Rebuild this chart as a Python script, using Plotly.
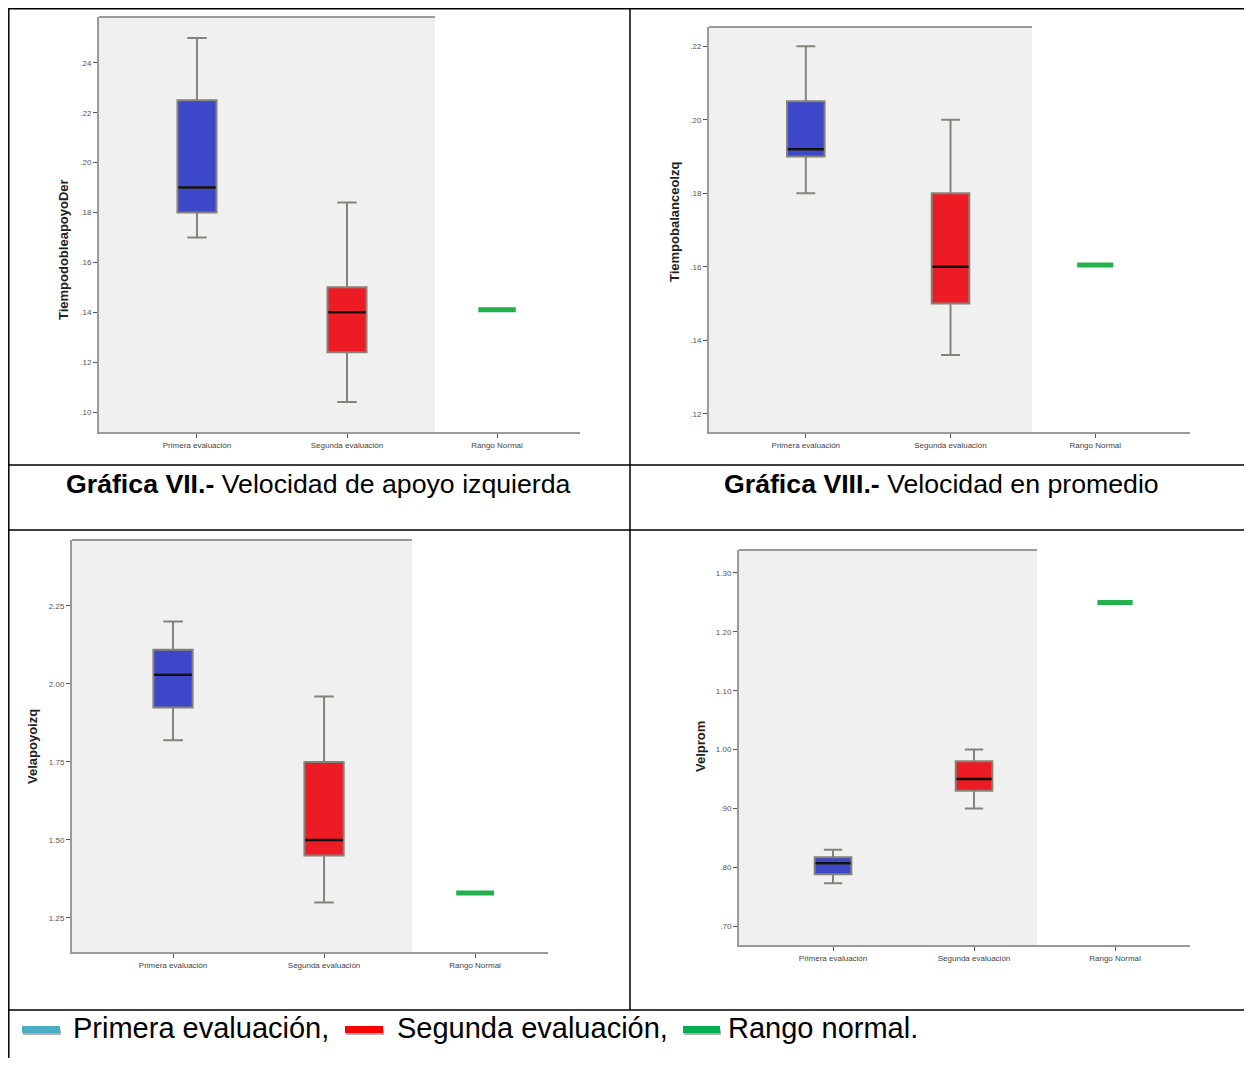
import plotly.graph_objects as go

OFF = 8  # page body margin in the browser
W, H = 1252 - OFF, 1074 - 3 * OFF

categories = ["Primera evaluación", "Segunda evaluación", "Rango Normal"]

# ---- Gráfica VII (TiempodobleapoyoDer) ----
g1_title = "TiempodobleapoyoDer"
g1_lower = [0.170, 0.104]
g1_q1 = [0.180, 0.124]
g1_median = [0.190, 0.140]
g1_q3 = [0.225, 0.150]
g1_upper = [0.250, 0.184]
g1_normal = 0.141
g1_ticks = [0.10, 0.12, 0.14, 0.16, 0.18, 0.20, 0.22, 0.24]
g1_ticktext = [".10", ".12", ".14", ".16", ".18", ".20", ".22", ".24"]

# ---- Gráfica VIII (Tiempobalanceolzq) ----
g2_title = "Tiempobalanceolzq"
g2_lower = [0.180, 0.136]
g2_q1 = [0.190, 0.150]
g2_median = [0.192, 0.160]
g2_q3 = [0.205, 0.180]
g2_upper = [0.220, 0.200]
g2_normal = 0.1605
g2_ticks = [0.12, 0.14, 0.16, 0.18, 0.20, 0.22]
g2_ticktext = [".12", ".14", ".16", ".18", ".20", ".22"]

# ---- Velapoyoizq ----
g3_title = "Velapoyoizq"
g3_lower = [1.82, 1.30]
g3_q1 = [1.925, 1.45]
g3_median = [2.03, 1.50]
g3_q3 = [2.11, 1.75]
g3_upper = [2.20, 1.96]
g3_normal = 1.33
g3_ticks = [1.25, 1.50, 1.75, 2.00, 2.25]
g3_ticktext = ["1.25", "1.50", "1.75", "2.00", "2.25"]

# ---- Velprom ----
g4_title = "Velprom"
g4_lower = [0.773, 0.900]
g4_q1 = [0.788, 0.930]
g4_median = [0.807, 0.950]
g4_q3 = [0.817, 0.980]
g4_upper = [0.830, 1.000]
g4_normal = 1.25
g4_ticks = [0.70, 0.80, 0.90, 1.00, 1.10, 1.20, 1.30]
g4_ticktext = [".70", ".80", ".90", "1.00", "1.10", "1.20", "1.30"]

captions = ["<b>Gráfica VII.-</b> Velocidad de apoyo izquierda",
            "<b>Gráfica VIII.-</b> Velocidad en promedio"]
legend_labels = ["Primera evaluación,", "Segunda evaluación,", "Rango normal."]
legend_colors = ["#4bacc6", "#ff0000", "#00b050"]

BLUE = "#3d47c9"
RED = "#ed1c24"
GREEN = "#22b14c"
GRAY_BG = "#f0f0f0"
FONT = "Liberation Sans, Arial, sans-serif"


def px(x):
    return (x - OFF) / W


def py(y):
    return 1 - (y - OFF) / H


panels = [
    dict(data=(g1_lower, g1_q1, g1_median, g1_q3, g1_upper, g1_normal),
         ticks=(g1_ticks, g1_ticktext), title=g1_title,
         box=(99, 580, 17, 432), gray_end=435, xr=[-0.653, 2.553], yr=[0.092, 0.2584],
         tpos=(63, 250)),
    dict(data=(g2_lower, g2_q1, g2_median, g2_q3, g2_upper, g2_normal),
         ticks=(g2_ticks, g2_ticktext), title=g2_title,
         box=(709, 1190, 27, 432), gray_end=1032, xr=[-0.669, 2.655], yr=[0.1151, 0.2252],
         tpos=(675, 222)),
    dict(data=(g3_lower, g3_q1, g3_median, g3_q3, g3_upper, g3_normal),
         ticks=(g3_ticks, g3_ticktext), title=g3_title,
         box=(72, 548, 540, 952), gray_end=412, xr=[-0.669, 2.483], yr=[1.141, 2.4615],
         tpos=(32, 747)),
    dict(data=(g4_lower, g4_q1, g4_median, g4_q3, g4_upper, g4_normal),
         ticks=(g4_ticks, g4_ticktext), title=g4_title,
         box=(739, 1190, 550, 945), gray_end=1037, xr=[-0.667, 2.532], yr=[0.668, 1.339],
         tpos=(700, 747)),
]

fig = go.Figure()
shapes = []
annotations = []
layout_axes = {}

for i, p in enumerate(panels, start=1):
    xa = "x" if i == 1 else f"x{i}"
    ya = "y" if i == 1 else f"y{i}"
    lower, q1, med, q3, upper, normal = p["data"]
    fills = [BLUE, RED]
    for k in range(2):
        fig.add_trace(go.Box(
            x=[categories[k]], q1=[q1[k]], median=[med[k]], q3=[q3[k]],
            lowerfence=[lower[k]], upperfence=[upper[k]],
            width=0.26, whiskerwidth=0.5, fillcolor=fills[k],
            line=dict(color="#85827a", width=2),
            xaxis=xa, yaxis=ya, showlegend=False, hoverinfo="skip"))
        # median line drawn in black
        fig.add_trace(go.Box(
            x=[categories[k]], q1=[med[k]], median=[med[k]], q3=[med[k]],
            lowerfence=[med[k]], upperfence=[med[k]],
            width=0.25, whiskerwidth=0, fillcolor="rgba(0,0,0,0)",
            line=dict(color="#111111", width=2.5),
            xaxis=xa, yaxis=ya, showlegend=False, hoverinfo="skip"))
    fig.add_trace(go.Box(
        x=[categories[2]], q1=[normal], median=[normal], q3=[normal],
        lowerfence=[normal], upperfence=[normal],
        width=0.25, whiskerwidth=0, fillcolor=GREEN,
        line=dict(color=GREEN, width=5),
        xaxis=xa, yaxis=ya, showlegend=False, hoverinfo="skip"))

    x0, x1, y0, y1 = p["box"]
    xkey = "xaxis" if i == 1 else f"xaxis{i}"
    ykey = "yaxis" if i == 1 else f"yaxis{i}"
    layout_axes[xkey] = dict(
        domain=[px(x0), px(x1)], anchor=ya, type="category",
        categoryorder="array", categoryarray=categories,
        range=p["xr"], showgrid=False, zeroline=False,
        showline=True, linecolor="#9a9a9a", linewidth=2,
        ticks="outside", ticklen=4, tickcolor="#555", tickwidth=1,
        tickfont=dict(family=FONT, size=8, color="#444"), fixedrange=True)
    layout_axes[ykey] = dict(
        domain=[py(y1), py(y0)], anchor=xa, range=p["yr"],
        tickvals=p["ticks"][0], ticktext=p["ticks"][1],
        showgrid=False, zeroline=False,
        showline=True, linecolor="#9a9a9a", linewidth=2,
        ticks="outside", ticklen=4, tickcolor="#555", tickwidth=1,
        tickfont=dict(family=FONT, size=8, color="#555"), fixedrange=True)

    # gray data area and its top border
    shapes.append(dict(type="rect", xref="paper", yref="paper",
                       x0=px(x0), x1=px(p["gray_end"]), y0=py(y1), y1=py(y0),
                       fillcolor=GRAY_BG, line=dict(width=0), layer="below"))
    shapes.append(dict(type="line", xref="paper", yref="paper",
                       x0=px(x0), x1=px(p["gray_end"]), y0=py(y0), y1=py(y0),
                       line=dict(color="#9a9a9a", width=2), layer="below"))
    tx, ty = p["tpos"]
    annotations.append(dict(text=f"<b>{p['title']}</b>", x=px(tx), y=py(ty),
                            xref="paper", yref="paper", showarrow=False,
                            xanchor="center", yanchor="middle",
                            textangle=-90, font=dict(family=FONT, size=13, color="#222")))

# table grid
BL = dict(color="black", width=1.5)
for (xa0, ya0, xa1, ya1) in [
    (8, 8.8, 1249, 8.8),      # top
    (8.8, 8, 8.8, 1074),      # left
    (1249, 8, 1249, 1074),    # right
    (630, 8, 630, 1010),      # middle vertical
    (8, 465, 1249, 465),
    (8, 530, 1249, 530),
    (8, 1010, 1249, 1010),
]:
    shapes.append(dict(type="line", xref="paper", yref="paper",
                       x0=px(xa0), y0=py(ya0), x1=px(xa1), y1=py(ya1), line=BL))

# captions
for cap, cx in zip(captions, [318, 941]):
    annotations.append(dict(text=cap, x=px(cx), y=py(484), xref="paper", yref="paper",
                            xanchor="center", yanchor="middle", showarrow=False,
                            font=dict(family=FONT, size=26.7, color="black")))

# bottom legend row
leg_dash = [(22, 60), (345, 383), (683, 720)]
leg_text_x = [71, 395, 726]
for (a, b), c, lbl, tx in zip(leg_dash, legend_colors, legend_labels, leg_text_x):
    shapes.append(dict(type="rect", xref="paper", yref="paper",
                       x0=px(a + 1), x1=px(b + 1), y0=py(1035), y1=py(1030),
                       fillcolor="#b0b0b0", line=dict(width=0)))
    shapes.append(dict(type="rect", xref="paper", yref="paper",
                       x0=px(a), x1=px(b), y0=py(1033), y1=py(1026),
                       fillcolor=c, line=dict(width=0)))
    annotations.append(dict(text=lbl, x=px(tx), y=py(1028), xref="paper", yref="paper",
                            xanchor="left", yanchor="middle", showarrow=False,
                            font=dict(family=FONT, size=29, color="black")))

fig.update_layout(
    width=W, height=H, margin=dict(l=0, r=0, t=0, b=0),
    paper_bgcolor="white", plot_bgcolor="rgba(0,0,0,0)",
    boxmode="overlay", showlegend=False,
    shapes=shapes, annotations=annotations, **layout_axes)

fig.write_html("out.html")
